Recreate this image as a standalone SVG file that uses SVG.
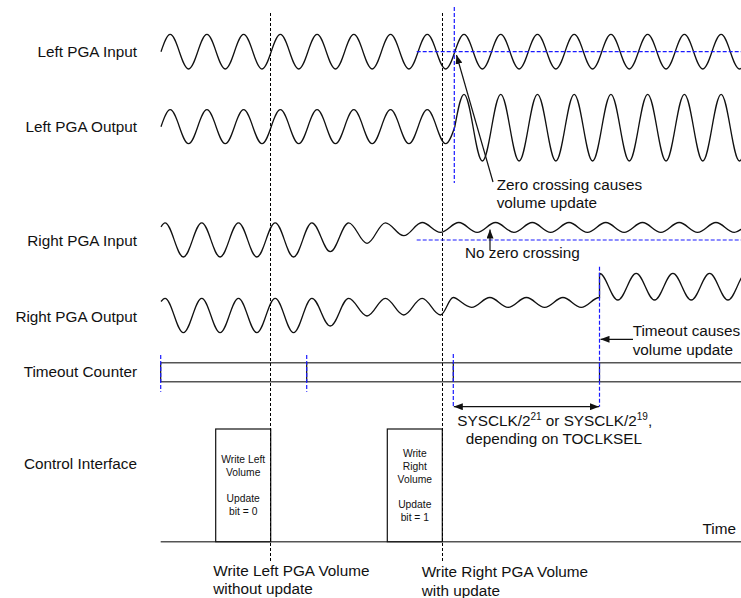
<svg xmlns="http://www.w3.org/2000/svg" width="741" height="598" viewBox="0 0 741 598">
<style>
text{font-family:"Liberation Sans",Arial,sans-serif;font-size:15.3px;fill:#111}
.lbl{text-anchor:end}
.box text{font-size:10.3px;text-anchor:middle}
.wave{fill:none;stroke:#111;stroke-width:1.3}
.vd{stroke:#000;stroke-width:1;stroke-dasharray:3,2;fill:none}
.bd{stroke:#1a1aff;stroke-width:1.2;stroke-dasharray:4,2;fill:none}
.tl{stroke:#555;stroke-width:1.5;fill:none}
.tk{stroke:#111;stroke-width:1.2}
.ar{stroke:#111;stroke-width:1.2;fill:none}
</style>
<defs>
<marker id="ah" viewBox="0 0 9 7" refX="9" refY="3.5" markerWidth="9" markerHeight="7" markerUnits="userSpaceOnUse" orient="auto-start-reverse"><path d="M0,0 L9,3.5 L0,7 z" fill="#111"/></marker>
</defs>
<rect width="741" height="598" fill="#fff"/>

<g id="labels">
<text class="lbl" x="137" y="57">Left PGA Input</text>
<text class="lbl" x="137" y="132">Left PGA Output</text>
<text class="lbl" x="137" y="245.5">Right PGA Input</text>
<text class="lbl" x="137" y="322">Right PGA Output</text>
<text class="lbl" x="137" y="377">Timeout Counter</text>
<text class="lbl" x="137" y="468.5">Control Interface</text>
</g>

<g id="left-input">
<path class="wave" d="M161,51.7 c2.99,-8.86 5.95,-17.3 9.18,-17.3 c6.674,0 11.691,34.6 18.365,34.6 s11.691,-34.6 18.365,-34.6 s11.691,34.6 18.365,34.6 s11.691,-34.6 18.365,-34.6 s11.691,34.6 18.365,34.6 s11.691,-34.6 18.365,-34.6 s11.691,34.6 18.365,34.6 s11.691,-34.6 18.365,-34.6 s11.691,34.6 18.365,34.6 s11.691,-34.6 18.365,-34.6 s11.691,34.6 18.365,34.6 s11.691,-34.6 18.365,-34.6 s11.691,34.6 18.365,34.6 s11.691,-34.6 18.365,-34.6 s11.691,34.6 18.365,34.6 s11.691,-34.6 18.365,-34.6 s11.691,34.6 18.365,34.6 s11.691,-34.6 18.365,-34.6 s11.691,34.6 18.365,34.6 s11.691,-34.6 18.365,-34.6 s11.691,34.6 18.365,34.6 s11.691,-34.6 18.365,-34.6 s11.691,34.6 18.365,34.6 s11.691,-34.6 18.365,-34.6 s11.691,34.6 18.365,34.6 s11.691,-34.6 18.365,-34.6 s11.691,34.6 18.365,34.6 s11.691,-34.6 18.365,-34.6 s11.691,34.6 18.365,34.6 s11.691,-34.6 18.365,-34.6 s11.691,34.6 18.365,34.6 s11.691,-34.6 18.365,-34.6"/>
</g>

<g id="left-output">
<path class="wave" d="M161,126.7 c2.99,-8.71 5.95,-17 9.18,-17 c6.674,0 11.691,34 18.365,34 s11.691,-34 18.365,-34 s11.691,34 18.365,34 s11.691,-34 18.365,-34 s11.691,34 18.365,34 s11.691,-34 18.365,-34 s11.691,34 18.365,34 s11.691,-34 18.365,-34 s11.691,34 18.365,34 s11.691,-34 18.365,-34 s11.691,34 18.365,34 s11.691,-34 18.365,-34 s11.691,34 18.365,34 s11.691,-34 18.365,-34 s11.691,34 18.365,34 c3.23,0 6.19,-8.29 9.18,-17 c2.99,-16.6 5.95,-32.4 9.18,-32.4 c6.674,0 11.691,66.7 18.365,66.7 s11.691,-66.7 18.365,-66.7 s11.691,66.7 18.365,66.7 s11.691,-66.7 18.365,-66.7 s11.691,66.7 18.365,66.7 s11.691,-66.7 18.365,-66.7 s11.691,66.7 18.365,66.7 s11.691,-66.7 18.365,-66.7 s11.691,66.7 18.365,66.7 s11.691,-66.7 18.365,-66.7 s11.691,66.7 18.365,66.7 s11.691,-66.7 18.365,-66.7 s11.691,66.7 18.365,66.7 s11.691,-66.7 18.365,-66.7 s11.691,66.7 18.365,66.7 s11.691,-66.7 18.365,-66.7"/>
</g>

<g id="right-input">
<path class="wave" d="M161,226.8 C162.5,224.6 163.6,222.8 165,222.8 c6.674,0 11.691,34.2 18.365,34.2 s11.691,-34.2 18.365,-34.2 s11.691,34.2 18.365,34.2 s11.691,-34.2 18.365,-34.2 s11.691,34.2 18.365,34.2 s11.691,-34.2 18.365,-34.2 s11.691,34.2 18.365,34.2 s11.691,-34.2 18.365,-34.2 s11.691,28.9 18.365,28.9 s11.691,-28.9 18.365,-28.9 s11.691,20.5 18.365,20.5 s11.691,-20.5 18.365,-20.5 s11.691,12.9 18.365,12.9 s11.691,-13.2 18.365,-13.2 s11.691,9.8 18.365,9.8 s11.691,-9.8 18.365,-9.8 s11.691,9.8 18.365,9.8 s11.691,-9.8 18.365,-9.8 s11.691,9.8 18.365,9.8 s11.691,-9.8 18.365,-9.8 s11.691,9.8 18.365,9.8 s11.691,-9.8 18.365,-9.8 s11.691,9.8 18.365,9.8 s11.691,-9.8 18.365,-9.8 s11.691,9.8 18.365,9.8 s11.691,-9.8 18.365,-9.8 s11.691,9.8 18.365,9.8 s11.691,-9.8 18.365,-9.8 s11.691,9.8 18.365,9.8 s11.691,-9.8 18.365,-9.8 s11.691,9.8 18.365,9.8 s11.691,-9.8 18.365,-9.8"/>
</g>

<g id="right-output">
<path class="wave" d="M161,301.5 C162.5,299.6 163.6,298.3 165,298.3 c6.674,0 11.691,34.4 18.365,34.4 s11.691,-34.4 18.365,-34.4 s11.691,34.4 18.365,34.4 s11.691,-34.4 18.365,-34.4 s11.691,34.4 18.365,34.4 s11.691,-34.4 18.365,-34.4 s11.691,34.4 18.365,34.4 s11.691,-34.4 18.365,-34.4 s11.691,27.7 18.365,27.7 s11.691,-27.7 18.365,-27.7 s11.691,17.7 18.365,17.7 s11.691,-17.7 18.365,-17.7 s11.691,16.7 18.365,16.7 s11.691,-16.7 18.365,-16.7 s11.691,16.7 18.365,16.7 c4.66,0 8.165,-17.5 12.825,-17.5 s11.63,9.8 18.275,9.8 s11.63,-9.8 18.275,-9.8 s11.63,9.8 18.275,9.8 s11.63,-9.8 18.275,-9.8 s11.63,9.8 18.275,9.8 s11.63,-9.8 18.275,-9.8 s11.63,9.8 18.275,9.8 s11.63,-9.8 18.275,-9.8 V273.3 c6.674,0 11.676,26.7 18.35,26.7 s11.676,-26.7 18.35,-26.7 s11.676,26.7 18.35,26.7 s11.676,-26.7 18.35,-26.7 s11.676,26.7 18.35,26.7 s11.676,-26.7 18.35,-26.7 s11.676,26.7 18.35,26.7 s11.676,-26.7 18.35,-26.7"/>
</g>

<g id="timeout-counter">
<line class="tl" x1="160.7" y1="362.7" x2="741" y2="362.7"/>
<line class="tl" x1="160.7" y1="381.7" x2="741" y2="381.7"/>
<line class="tk" x1="160.7" y1="362.7" x2="160.7" y2="381.7"/>
<line class="tk" x1="306.7" y1="362.7" x2="306.7" y2="381.7"/>
<line class="tk" x1="453.3" y1="362.7" x2="453.3" y2="381.7"/>
<line class="tk" x1="599.5" y1="362.7" x2="599.5" y2="381.7"/>
</g>

<g id="control-interface">
<line class="tl" x1="160.7" y1="541.7" x2="741" y2="541.7"/>
<g class="box" id="box-left">
<rect x="215.7" y="429" width="55" height="112.7" fill="#fff" stroke="#111" stroke-width="1.2"/>
<text x="243.2" y="463">Write Left</text>
<text x="243.2" y="476">Volume</text>
<text x="243.2" y="502">Update</text>
<text x="243.2" y="515">bit = 0</text>
</g>
<g class="box" id="box-right">
<rect x="387.3" y="429" width="55" height="112.7" fill="#fff" stroke="#111" stroke-width="1.2"/>
<text x="414.8" y="457">Write</text>
<text x="414.8" y="470">Right</text>
<text x="414.8" y="482.7">Volume</text>
<text x="414.8" y="508.3">Update</text>
<text x="414.8" y="521">bit = 1</text>
</g>
<text x="736" y="533.8" text-anchor="end">Time</text>
</g>

<g id="connectors">
<line class="vd" x1="270.5" y1="13" x2="270.5" y2="563"/>
<line class="vd" x1="442.5" y1="13" x2="442.5" y2="563"/>
<line class="bd" x1="416.7" y1="51.7" x2="741" y2="51.7"/>
<line class="bd" x1="416.7" y1="240" x2="741" y2="240"/>
<line class="bd" x1="454.3" y1="7" x2="454.3" y2="183"/>
<line class="bd" x1="599.5" y1="266.7" x2="599.5" y2="406.7"/>
<line class="bd" x1="160.7" y1="355" x2="160.7" y2="391.7"/>
<line class="bd" x1="306.7" y1="355" x2="306.7" y2="391.7"/>
<line class="bd" x1="453.3" y1="354" x2="453.3" y2="406.7"/>
<line class="ar" x1="493" y1="182" x2="456.5" y2="55" marker-end="url(#ah)"/>
<line class="ar" x1="490" y1="250" x2="490" y2="229.5" marker-end="url(#ah)"/>
<line class="ar" x1="633" y1="339.3" x2="600.5" y2="339.3" marker-end="url(#ah)"/>
<line class="ar" x1="453.8" y1="406.7" x2="599" y2="406.7" marker-start="url(#ah)" marker-end="url(#ah)"/>
</g>

<g id="annotations">
<text x="496.7" y="189.5">Zero crossing causes</text>
<text x="496.7" y="208">volume update</text>
<text x="465" y="258">No zero crossing</text>
<text x="632.7" y="335.5">Timeout causes</text>
<text x="632.7" y="354.5">volume update</text>
<text x="457.3" y="425.5">SYSCLK/2<tspan dy="-6" font-size="10px">21</tspan><tspan dy="6"> or SYSCLK/2</tspan><tspan dy="-6" font-size="10px">19</tspan><tspan dy="6">,</tspan></text>
<text x="465.7" y="444">depending on TOCLKSEL</text>
<text x="213.3" y="575.5">Write Left PGA Volume</text>
<text x="213.3" y="594">without update</text>
<text x="421.7" y="577">Write Right PGA Volume</text>
<text x="421.7" y="595.5">with update</text>
</g>
</svg>
